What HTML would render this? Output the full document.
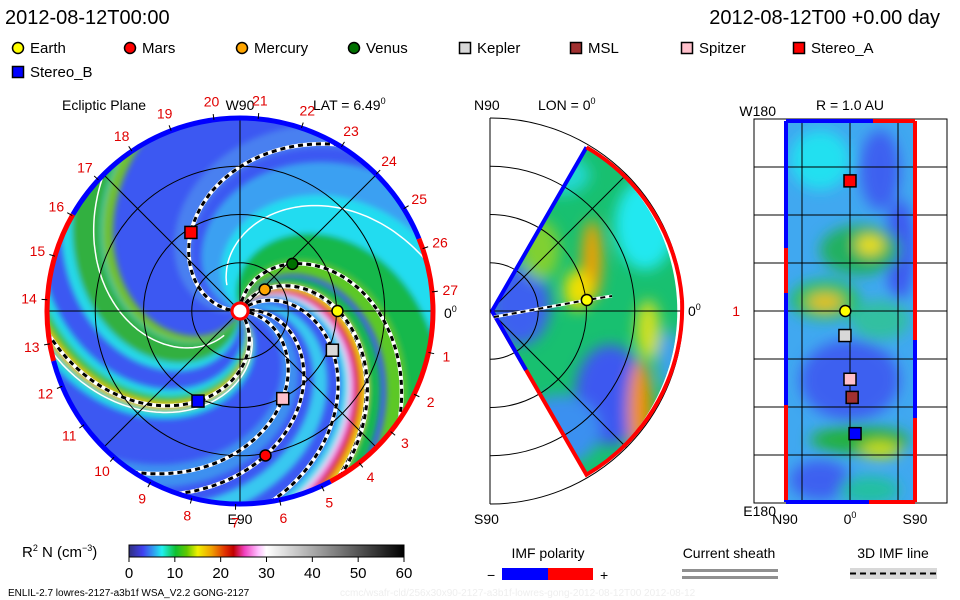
<!DOCTYPE html>
<html><head><meta charset="utf-8">
<style>
body{margin:0;background:#fff;}
svg{display:block;font-family:"Liberation Sans",sans-serif;}
</style></head>
<body>
<svg id="root" width="960" height="600" viewBox="0 0 960 600" xmlns="http://www.w3.org/2000/svg">
<defs>
<filter id="blur" x="-20%" y="-20%" width="140%" height="140%"><feGaussianBlur stdDeviation="3"/></filter>
<filter id="blur2" x="-30%" y="-30%" width="160%" height="160%"><feGaussianBlur stdDeviation="7"/></filter>
<clipPath id="diskClip"><circle cx="240" cy="311" r="193"/></clipPath>
<clipPath id="wedgeClip"><path d="M492,311 L586.5,147.3 A193,193 0 0 1 586.5,474.7 Z"/></clipPath>
<clipPath id="rectClip"><rect x="786" y="121" width="129" height="381"/></clipPath>
<linearGradient id="cbar" x1="0" x2="1" y1="0" y2="0">
<stop offset="0" stop-color="#303080"/><stop offset="0.05" stop-color="#4040f0"/><stop offset="0.09" stop-color="#30a0f0"/>
<stop offset="0.12" stop-color="#20f0f0"/><stop offset="0.17" stop-color="#10c030"/><stop offset="0.21" stop-color="#60c800"/>
<stop offset="0.25" stop-color="#f0f000"/><stop offset="0.30" stop-color="#f0a000"/><stop offset="0.35" stop-color="#e03000"/>
<stop offset="0.38" stop-color="#c00000"/><stop offset="0.42" stop-color="#f040c0"/><stop offset="0.47" stop-color="#ffc0ff"/>
<stop offset="0.5" stop-color="#ffffff"/><stop offset="1" stop-color="#000000"/>
</linearGradient>
</defs>

<text x="5" y="24" font-size="20">2012-08-12T00:00</text>
<text x="940" y="24" font-size="20" text-anchor="end">2012-08-12T00 +0.00 day</text>
<g id="legend"></g>

<g id="left">
<text x="62" y="110" font-size="14">Ecliptic Plane</text>
<text x="240" y="110" font-size="14" text-anchor="middle">W90</text>
<text x="313" y="110" font-size="14">LAT = 6.49<tspan dy="-6" font-size="9">0</tspan></text>
<text x="240" y="524" font-size="14" text-anchor="middle">E90</text>
<text x="444" y="318" font-size="14">0<tspan dy="-6" font-size="9">0</tspan></text>
<circle cx="240" cy="311" r="193" fill="#3c58f2"/>
<g id="bands" clip-path="url(#diskClip)" filter="url(#blur)"></g>
<g id="leftOver" clip-path="url(#diskClip)"></g>
<g id="leftGrid"></g>
</g>

<g id="mid">
<text x="474" y="110" font-size="14">N90</text>
<text x="538" y="110" font-size="14">LON = 0<tspan dy="-6" font-size="9">0</tspan></text>
<text x="474" y="524" font-size="14">S90</text>
<text x="688" y="316" font-size="14">0<tspan dy="-6" font-size="9">0</tspan></text>
<path d="M492,311 L586.5,147.3 A193,193 0 0 1 586.5,474.7 Z" fill="#18c070"/>
<g clip-path="url(#wedgeClip)" filter="url(#blur2)">
<ellipse cx="520" cy="305" rx="30" ry="40" fill="#3c60f0"/>
<ellipse cx="610" cy="395" rx="35" ry="50" fill="#3c58f0"/>
<ellipse cx="560" cy="430" rx="40" ry="35" fill="#3a90f0"/>
<ellipse cx="645" cy="225" rx="30" ry="45" fill="#20e8f0"/>
<ellipse cx="560" cy="175" rx="30" ry="20" fill="#20d8d0"/>
<ellipse cx="592" cy="260" rx="10" ry="40" fill="#f0a000"/>
<ellipse cx="578" cy="290" rx="14" ry="20" fill="#f0e000"/>
<ellipse cx="640" cy="410" rx="12" ry="50" fill="#f09000"/>
<ellipse cx="648" cy="330" rx="12" ry="30" fill="#d0e020"/>
<ellipse cx="670" cy="360" rx="12" ry="30" fill="#40a0f0"/>
<ellipse cx="540" cy="250" rx="20" ry="30" fill="#80d030"/>
</g>
<g id="midGrid"></g>
</g>

<g id="right">
<text x="850" y="110" font-size="14" text-anchor="middle">R = 1.0 AU</text>
<text x="776" y="116" font-size="14" text-anchor="end">W180</text>
<text x="776" y="516" font-size="14" text-anchor="end">E180</text>
<text x="740" y="316" font-size="14" fill="#e00000" text-anchor="end">1</text>
<text x="785" y="524" font-size="14" text-anchor="middle">N90</text>
<text x="850" y="524" font-size="14" text-anchor="middle">0<tspan dy="-6" font-size="9">0</tspan></text>
<text x="915" y="524" font-size="14" text-anchor="middle">S90</text>
<rect x="786" y="121" width="129" height="381" fill="#40a8f0"/>
<g clip-path="url(#rectClip)" filter="url(#blur2)">
<ellipse cx="820" cy="160" rx="30" ry="30" fill="#20e0f0"/>
<ellipse cx="880" cy="170" rx="20" ry="40" fill="#3c60f0"/>
<ellipse cx="900" cy="250" rx="15" ry="50" fill="#3c58f0"/>
<ellipse cx="860" cy="250" rx="40" ry="25" fill="#20b060"/>
<ellipse cx="870" cy="245" rx="14" ry="10" fill="#f0e000"/>
<ellipse cx="825" cy="300" rx="35" ry="20" fill="#20c060"/>
<ellipse cx="825" cy="302" rx="18" ry="8" fill="#f0c000"/>
<ellipse cx="880" cy="320" rx="30" ry="20" fill="#30c0a0"/>
<ellipse cx="850" cy="380" rx="50" ry="40" fill="#3c60f0"/>
<ellipse cx="860" cy="440" rx="50" ry="14" fill="#20b040"/>
<ellipse cx="880" cy="450" rx="20" ry="8" fill="#d0e000"/>
<ellipse cx="820" cy="480" rx="30" ry="20" fill="#3c60f0"/>
<ellipse cx="870" cy="490" rx="30" ry="14" fill="#20c0a0"/>
</g>
<g id="rightGrid"></g>
</g>

<g>
<text x="22" y="557" font-size="15">R<tspan dy="-6" font-size="9">2</tspan><tspan dy="6"> N (cm</tspan><tspan dy="-6" font-size="9">−3</tspan><tspan dy="6">)</tspan></text>
<rect x="129" y="545" width="275" height="12" fill="url(#cbar)" stroke="#000" stroke-width="1"/>
<g id="cbarTicks"></g>
</g>
<text x="8" y="596" font-size="10">ENLIL-2.7 lowres-2127-a3b1f WSA_V2.2 GONG-2127</text>
<text x="340" y="596" font-size="10" fill="#eeeeee">ccmc/wsafr-cld/256x30x90-2127-a3b1f-lowres-gong-2012-08-12T00   2012-08-12</text>

<g>
<text x="548" y="558" font-size="14" text-anchor="middle">IMF polarity</text>
<rect x="502" y="568" width="46" height="12" fill="#0000ff"/>
<rect x="548" y="568" width="45" height="12" fill="#ff0000"/>
<text x="487" y="580" font-size="14">−</text>
<text x="600" y="580" font-size="14">+</text>
</g>
<g>
<text x="729" y="558" font-size="14" text-anchor="middle">Current sheath</text>
<rect x="682" y="569" width="96" height="3" fill="#909090"/>
<rect x="682" y="576" width="96" height="3" fill="#909090"/>
</g>
<g>
<text x="893" y="558" font-size="14" text-anchor="middle">3D IMF line</text>
<rect x="850" y="568" width="87" height="11" fill="#d8d8d8"/>
<line x1="850" y1="573.5" x2="937" y2="573.5" stroke="#000" stroke-width="2" stroke-dasharray="6,4"/>
</g>
</svg>
<script>
// ---------- data ----------
const objNames = ["Earth","Mars","Mercury","Venus","Kepler","MSL","Spitzer","Stereo_A","Stereo_B"];
const objColors = ["#ffff00","#ff0000","#ffa500","#007000","#d8d8d8","#a03030","#ffc0cb","#ff0000","#0000ff"];
const objShapes = ["c","c","c","c","s","s","s","s","s"];
const objR = [1.01, 1.52, 0.34, 0.73, 1.04, 1.40, 1.01, 0.96, 1.03];
const objLon = [0, -80, 41, 42, -23, -81, -64, 122, -115];
const objLat = [6.5, 0, 0, 0, 7, -3, 0, 0, -7];
const showInEcliptic = [true,true,true,true,true,false,true,true,true];
const dayLabels = [1,2,3,4,5,6,7,8,9,10,11,12,13,14,15,16,17,18,19,20,21,22,23,24,25,26,27];
const cbarTicks = [0,10,20,30,40,50,60];
const bandPhi = [58, 95, 40, 22, 6, 200, 200, 185, 125, -115, -115, -113, -35, -62, -1, -4, -7, -10, -13, -16];
const bandWidth = [50, 24, 26, 14, 10, 36, 20, 8, 16, 24, 12, 5, 12, 16, 5, 4, 4, 4, 4, 6];
const bandColor = ["#22dcf0","#3aa0f2","#14b84c","#5cc828","#18b850","#28d8e8","#30b040","#70c030","#4a80f0","#20d8e8","#40c030","#f0c000","#38c8f0","#3c90f0","#f0e020","#f08010","#d01010","#f060e0","#f8f0f8","#40d0f0"];

// ---------- helpers ----------
const NS="http://www.w3.org/2000/svg";
const CX=240, CY=311, S=96.5, WIND=60;
function mk(tag, attrs, parent){const e=document.createElementNS(NS,tag);for(const k in attrs)e.setAttribute(k,attrs[k]);parent.appendChild(e);return e;}
function pol(r, deg){const a=deg*Math.PI/180;return [CX+r*S*Math.cos(a), CY-r*S*Math.sin(a)];}
function spiralPts(phi1, r0, r1){const p=[];for(let r=r0;r<=r1+1e-9;r+=0.02)p.push(pol(r, phi1+WIND*(1-r)));return p;}
function ptsStr(p){return p.map(q=>q[0].toFixed(1)+","+q[1].toFixed(1)).join(" ");}

const bands=document.getElementById('bands');
for(let i=0;i<bandPhi.length;i++){
  const a=spiralPts(bandPhi[i]-bandWidth[i]/2,0.05,2.2);
  const b=spiralPts(bandPhi[i]+bandWidth[i]/2,0.05,2.2).reverse();
  const p=mk('polygon',{points:ptsStr(a.concat(b)),fill:bandColor[i]},bands);
  
  
}
const over=document.getElementById('leftOver');
[-20,75,195,-108].forEach(phi=>{
  const l=mk('polyline',{points:ptsStr(spiralPts(phi,0.3,2.2)),fill:"none",stroke:"#fff","stroke-width":1.5},over);
  
  
});
objNames.forEach((n,i)=>{
  if(!showInEcliptic[i]) return;
  const phi1=objLon[i]+WIND*(objR[i]-1);
  const pts=ptsStr(spiralPts(phi1,0.1,2.2));
  mk('polyline',{points:pts,fill:"none",stroke:"#fff","stroke-width":4},over);
  const d=mk('polyline',{points:pts,fill:"none",stroke:"#000","stroke-width":3,"stroke-dasharray":"5,4"},over);
  
  
});
const lg=document.getElementById('leftGrid');
[0.5,1,1.5].forEach(r=>mk('circle',{cx:CX,cy:CY,r:r*S,fill:"none",stroke:"#000","stroke-width":1},lg));
[0,45,90,135].forEach(a=>{const p=pol(2,a),q=pol(2,a+180);mk('line',{x1:p[0],y1:p[1],x2:q[0],y2:q[1],stroke:"#000","stroke-width":1},lg);});
function arc(r,a0,a1,col){const p=pol(r,a0),q=pol(r,a1);const large=Math.abs(a1-a0)>180?1:0;
  const e=mk('path',{d:`M${p[0]},${p[1]} A${r*S},${r*S} 0 ${large} 0 ${q[0]},${q[1]}`,fill:"none",stroke:col,"stroke-width":5},lg);
  
  }
arc(2.0,22,150,"#0000ff");arc(2.0,150,195,"#ff0000");arc(2.0,195,298,"#0000ff");arc(2.0,-62,22,"#ff0000");
dayLabels.forEach((d,k)=>{
  const ang=-12.4-13.15*(d-1);
  const p=pol(2.19,ang), t=pol(2.0,ang), t2=pol(2.06,ang);
  mk('line',{x1:t[0],y1:t[1],x2:t2[0],y2:t2[1],stroke:"#000"},lg);
  const e=mk('text',{x:p[0],y:p[1]+5,"font-size":14,fill:"#e00000","text-anchor":"middle"},lg);
  e.textContent=d;
  
  
});
mk('circle',{cx:CX,cy:CY,r:8,fill:"#fff",stroke:"#ff0000","stroke-width":3},lg);
function marker(g,x,y,i,n){
  let e;
  if(objShapes[i]==="c") e=mk('circle',{cx:x,cy:y,r:5.5,fill:objColors[i],stroke:"#000","stroke-width":1.5},g);
  else e=mk('rect',{x:x-6,y:y-6,width:12,height:12,fill:objColors[i],stroke:"#000","stroke-width":1.5},g);
  
  
}
objNames.forEach((n,i)=>{ if(!showInEcliptic[i]) return; const p=pol(objR[i],objLon[i]); marker(lg,p[0],p[1],i,'ecliptic-'+n.toLowerCase()); });

const mg=document.getElementById('midGrid'); const MX=490;
[48.25,96.5,144.75,193].forEach(r=>mk('path',{d:`M${MX},${CY-r} A${r},${r} 0 0 1 ${MX},${CY+r}`,fill:"none",stroke:"#000","stroke-width":1},mg));
mk('line',{x1:MX,y1:CY-193,x2:MX,y2:CY+193,stroke:"#000"},mg);
[45,0,-45].forEach(a=>{const r=Math.PI*a/180;mk('line',{x1:MX,y1:CY,x2:MX+193*Math.cos(r),y2:CY-193*Math.sin(r),stroke:"#000"},mg);});
mk('path',{d:"M492,311 L586.5,147.3",stroke:"#0000ff","stroke-width":4,fill:"none"},mg);
mk('path',{d:"M586.5,147.3 A193,193 0 0 1 682,300",stroke:"#ff0000","stroke-width":4,fill:"none"},mg);
mk('path',{d:"M682,300 A193,193 0 0 1 586.5,474.7 L492,311",stroke:"#ff0000","stroke-width":4,fill:"none"},mg);
mk('path',{d:"M492,311 L526,370",stroke:"#0000ff","stroke-width":4,fill:"none"},mg);
{const a=objLat[0]*Math.PI/180, x=MX+objR[0]*S*Math.cos(a), y=CY-objR[0]*S*Math.sin(a);
 mk('polyline',{points:`494,317 ${x},${y} 612,296`,fill:"none",stroke:"#fff","stroke-width":3},mg);
 mk('polyline',{points:`494,317 ${x},${y} 612,296`,fill:"none",stroke:"#000","stroke-width":2,"stroke-dasharray":"5,4"},mg);
 marker(mg,x,y,0,'meridional-earth');}

const rg=document.getElementById('rightGrid');
mk('rect',{x:754,y:119,width:193,height:384,fill:"none",stroke:"#000"},rg);
for(let k=1;k<8;k++) mk('line',{x1:754,y1:119+48*k,x2:947,y2:119+48*k,stroke:"#000"},rg);
[802,850,898].forEach(x=>mk('line',{x1:x,y1:119,x2:x,y2:503,stroke:"#000"},rg));
mk('line',{x1:786,y1:121,x2:786,y2:502,stroke:"#0000ff","stroke-width":4},rg);
mk('line',{x1:786,y1:248,x2:786,y2:293,stroke:"#ff0000","stroke-width":4},rg);
mk('line',{x1:786,y1:405,x2:786,y2:500,stroke:"#ff0000","stroke-width":4},rg);
mk('line',{x1:915,y1:121,x2:915,y2:340,stroke:"#ff0000","stroke-width":4},rg);
mk('line',{x1:915,y1:340,x2:915,y2:418,stroke:"#0000ff","stroke-width":4},rg);
mk('line',{x1:915,y1:418,x2:915,y2:502,stroke:"#ff0000","stroke-width":4},rg);
mk('line',{x1:786,y1:121,x2:873,y2:121,stroke:"#0000ff","stroke-width":4},rg);
mk('line',{x1:873,y1:121,x2:915,y2:121,stroke:"#ff0000","stroke-width":4},rg);
mk('line',{x1:786,y1:502,x2:869,y2:502,stroke:"#0000ff","stroke-width":4},rg);
mk('line',{x1:869,y1:502,x2:915,y2:502,stroke:"#ff0000","stroke-width":4},rg);
objNames.forEach((n,i)=>{ if(i>=1&&i<=3) return;
  const x=850-objLat[i]*130/180, y=311-objLon[i]*384/360;
  marker(rg,x,y,i,'map-'+n.toLowerCase()); });

const ct=document.getElementById('cbarTicks');
cbarTicks.forEach(v=>{const x=129+v/60*275;
  mk('line',{x1:x,y1:557,x2:x,y2:562,stroke:"#000"},ct);
  const t=mk('text',{x:x,y:578,"font-size":15,"text-anchor":"middle"},ct); t.textContent=v;
  
  });

const leg=document.getElementById('legend');
const legX=[18,130,242,354,465,576,687,799,18], legY=[48,48,48,48,48,48,48,48,72];
objNames.forEach((n,i)=>{
  const g=mk('g',{},leg);
  
  
  if(objShapes[i]==="c") mk('circle',{cx:legX[i],cy:legY[i],r:5.5,fill:objColors[i],stroke:"#000","stroke-width":1.5},g);
  else mk('rect',{x:legX[i]-5.5,y:legY[i]-5.5,width:11,height:11,fill:objColors[i],stroke:"#000","stroke-width":1.5},g);
  const t=mk('text',{x:legX[i]+12,y:legY[i]+5,"font-size":15},g); t.textContent=n;
});
</script>
</body></html>
